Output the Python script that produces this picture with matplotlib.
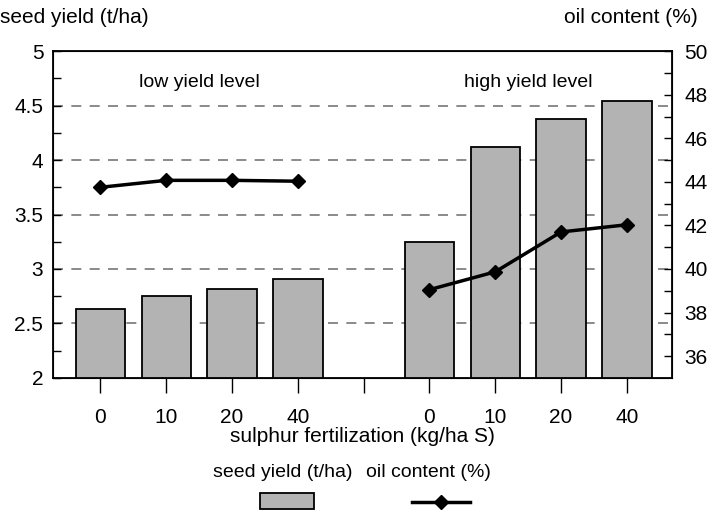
import numpy as np
import matplotlib.pyplot as plt
from matplotlib.patches import Rectangle
from matplotlib.lines import Line2D
from matplotlib.ticker import MultipleLocator

plt.rcParams['font.family'] = ['Liberation Sans', 'DejaVu Sans']
plt.rcParams['font.size'] = 15

# data
doses = ['0', '10', '20', '40']
low_yield = [2.63, 2.75, 2.82, 2.91]
high_yield = [3.25, 4.12, 4.38, 4.54]
low_oil = [43.75, 44.07, 44.07, 44.03]
high_oil = [39.05, 39.87, 41.7, 42.03]

x_low = np.arange(4)
x_high = np.arange(4) + 5

fig = plt.figure(figsize=(7.07, 5.12), dpi=100)
ax = fig.add_axes([0.075, 0.262, 0.875, 0.638])

bar_kw = dict(width=0.75, color='#b3b3b3', edgecolor='black', linewidth=1.3, zorder=2)
ax.bar(x_low, low_yield, **bar_kw)
ax.bar(x_high, high_yield, **bar_kw)

ax.set_xlim(-0.72, 8.68)
ax.set_ylim(2, 5)
ax.yaxis.set_major_locator(MultipleLocator(0.5))
ax.yaxis.set_minor_locator(MultipleLocator(0.25))
ax.yaxis.set_major_formatter(plt.FuncFormatter(lambda v, p: '%g' % v))
for g in [2.5, 3, 3.5, 4, 4.5]:
    ax.axhline(g, color='#777777', lw=1.2, ls=(0, (6, 5)), zorder=1)

ax.set_xticks(np.arange(9))
ax.set_xticklabels(doses + [''] + doses)
ax.tick_params(axis='x', direction='out', length=11, width=1, pad=11)
ax.tick_params(axis='y', which='major', direction='in', length=6, width=1, pad=7)
ax.tick_params(axis='y', which='minor', direction='in', length=6, width=1)
ax.set_xlabel('sulphur fertilization (kg/ha S)', labelpad=0)
for s in ax.spines.values():
    s.set_linewidth(1.3)

ax2 = ax.twinx()
ax2.set_ylim(35, 50)
ax2.set_yticks(np.arange(36, 51, 2))
ax2.set_yticks(np.arange(37, 50, 2), minor=True)
ax2.tick_params(axis='y', which='major', direction='in', length=6, width=1, pad=9)
ax2.tick_params(axis='y', which='minor', direction='in', length=6, width=1)
line_kw = dict(color='black', lw=2.5, marker='D', markersize=7, zorder=3)
ax2.plot(x_low, low_oil, **line_kw)
ax2.plot(x_high, high_oil, **line_kw)

ax.text(1.5, 4.71, 'low yield level', ha='center', va='center', fontsize=14)
ax.text(6.5, 4.71, 'high yield level', ha='center', va='center', fontsize=14)

fig.text(0.0, 0.965, 'seed yield (t/ha)', ha='left', va='center', fontsize=15)
fig.text(0.987, 0.965, 'oil content (%)', ha='right', va='center', fontsize=15)

# legend
fig.text(283 / 707, 0.078, 'seed yield (t/ha)', ha='center', va='center', fontsize=14)
fig.text(428 / 707, 0.078, 'oil content (%)', ha='center', va='center', fontsize=14)
lax = fig.add_axes([0, 0, 1, 0.06])
lax.set_xlim(0, 707)
lax.set_ylim(0, 30)
lax.axis('off')
lax.add_patch(Rectangle((260, 3), 54, 16, facecolor='#b3b3b3', edgecolor='black', lw=1.3))
lax.add_line(Line2D([412, 470], [10, 10], color='black', lw=2.5))
lax.add_line(Line2D([441], [10], color='black', marker='D', markersize=7))

fig.savefig('out.png', dpi=100)
